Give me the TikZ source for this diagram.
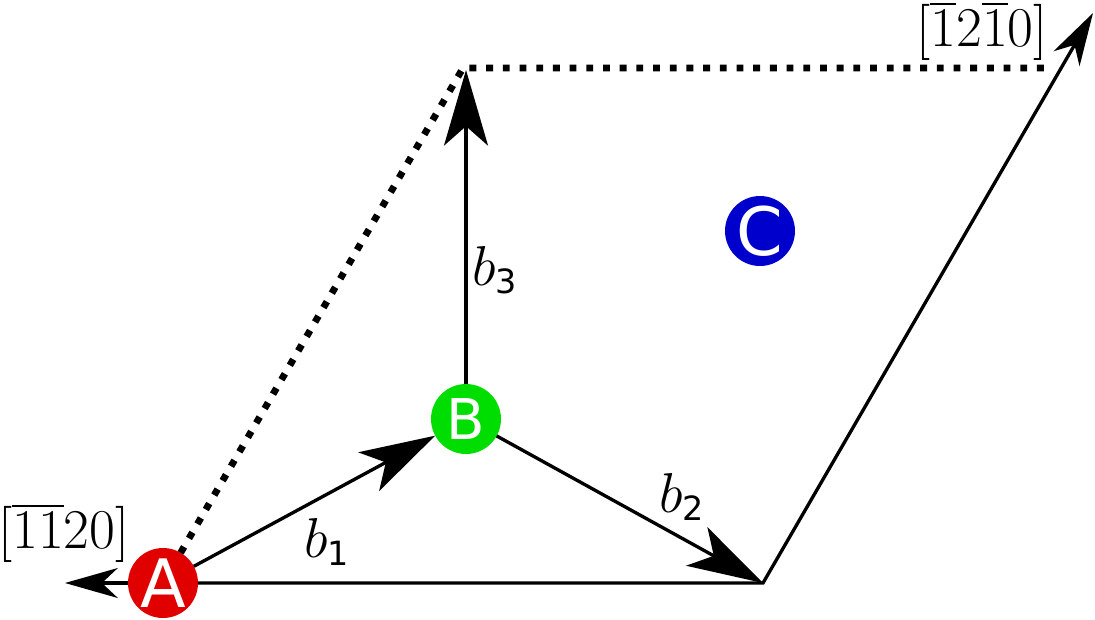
\RequirePackage{fix-cm}
\documentclass[tikz,border=0pt]{standalone}
\usepackage{fontspec}
\usepackage{amsmath}
\usetikzlibrary{positioning, arrows.meta}
\newfontfamily\sitefont{DejaVu Sans}
\newcommand{\sub}[1]{\hbox{\sitefont\fontsize{19}{19}\selectfont #1}}
\definecolor{siteA}{RGB}{224,0,0}
\definecolor{siteB}{RGB}{0,221,0}
\definecolor{siteC}{RGB}{0,0,204}

\begin{document}
\begin{tikzpicture}[x=0.02cm, y=-0.02cm, line width=1.9pt,
    vec/.style={-{Stealth[length=43pt, width=25pt, inset=11pt]}},
    axis/.style={-{Stealth[length=30pt, width=17pt, inset=9pt]}},
    dots/.style={line width=3.9pt, dash pattern=on 3.9pt off 5.6pt},
    site/.style={circle, inner sep=0pt, outer sep=0pt, minimum size=1.4cm, text=white},
    lbl/.style={font=\fontsize{32}{38}\selectfont, inner sep=0pt}]
    \useasboundingbox (0,0) rectangle (1095,619);
    \coordinate (P) at (763,583);
    \coordinate (T) at (1093,13);
    \coordinate (L) at (65,583);
    \coordinate (D) at (463,68);
    \coordinate (E) at (1052,68);
    \coordinate (V) at (466,70);
    \node[site, fill=siteA, font=\sitefont\fontsize{38}{40}\selectfont](A) at (163,583){A};
    \node[site, fill=siteB, font=\sitefont\fontsize{32}{34}\selectfont](B) at (466,419){B};
    \node[site, fill=siteC, font=\sitefont\fontsize{38}{40}\selectfont](C) at (760,231){C};
    \node[lbl](dirA) at (64,533){$[\overline{1}\overline{1}20]$};
    \node[lbl](dirB) at (982,31){$[\overline{1}2\overline{1}0]$};
    \node[lbl](b1) at (327,542){$b_{\sub{1}}$};
    \node[lbl](b2) at (682,497){$b_{\sub{2}}$};
    \node[lbl](b3) at (495,270){$b_{\sub{3}}$};
    % Arrows
    \draw[dots] (A) -- (D) -- (E);
    \draw[axis] (A) -- (L);
    \draw[axis] (A) -- (P) -- (T);
    \draw[vec] (A) -- (B);
    \draw[vec] (B) -- (P);
    \draw[vec] (B) -- (V);
\end{tikzpicture}
\end{document}
